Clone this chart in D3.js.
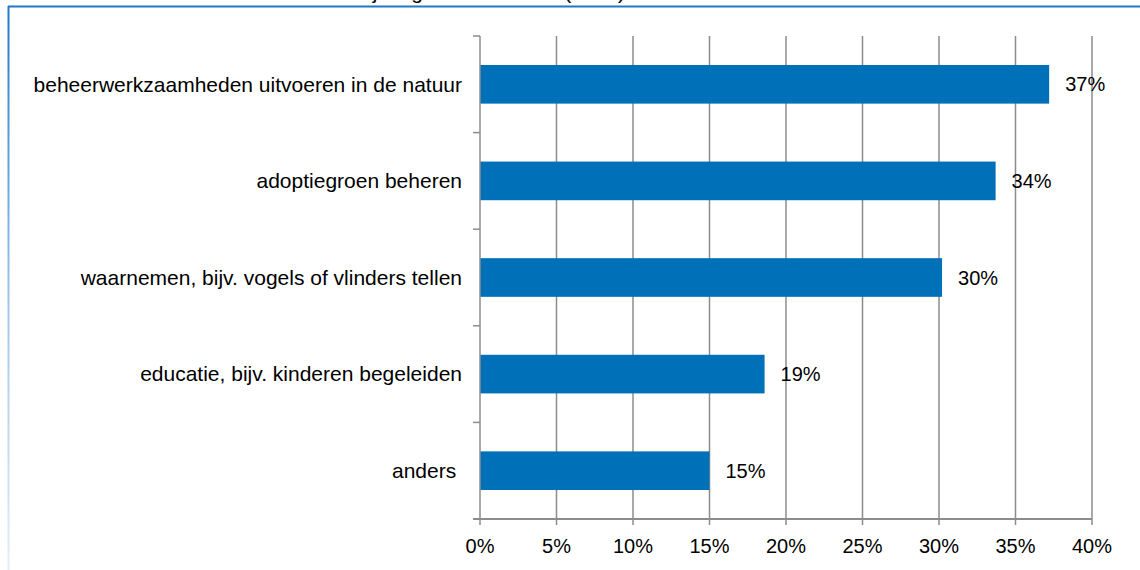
<!DOCTYPE html>
<html>
<head>
<meta charset="utf-8">
<script src="https://cdn.jsdelivr.net/npm/d3@7"></script>
<style>
  body { margin: 0; background: #fff; }
  text { font-family: "Liberation Sans", Arial, sans-serif; fill: #000; }
</style>
</head>
<body>
<script>
// categories top to bottom, values in percent
var categories = [
  "beheerwerkzaamheden uitvoeren in de natuur",
  "adoptiegroen beheren",
  "waarnemen, bijv. vogels of vlinders tellen",
  "educatie, bijv. kinderen begeleiden",
  "anders "
];
var values = [37.2, 33.7, 30.2, 18.6, 15.0];
var valueLabels = ["37%", "34%", "30%", "19%", "15%"];
var xTicks = [0, 5, 10, 15, 20, 25, 30, 35, 40];

var width = 1140, height = 570;
var svg = d3.select("body").append("svg")
  .attr("width", width)
  .attr("height", height);

// frame with fading left edge
var defs = svg.append("defs");
var grad = defs.append("linearGradient").attr("id", "fade")
  .attr("x1", 0).attr("y1", 0).attr("x2", 0).attr("y2", 1);
grad.append("stop").attr("offset", "0%").attr("stop-color", "#1f78c8");
grad.append("stop").attr("offset", "50%").attr("stop-color", "#9cc3e8");
grad.append("stop").attr("offset", "100%").attr("stop-color", "#e4eef8");

// title, mostly cut off above the frame
svg.append("text")
  .attr("x", 625).attr("y", -1)
  .attr("text-anchor", "end")
  .style("font-size", "21px")
  .text("Soort activiteiten als vrijwilliger in de natuur (2013)");

svg.append("rect")
  .attr("x", 8).attr("y", 5.5).attr("width", width).attr("height", 2)
  .attr("fill", "#1f78c8");
svg.append("rect")
  .attr("x", 7.5).attr("y", 6).attr("width", 2).attr("height", height - 6)
  .attr("fill", "url(#fade)");

var x = d3.scaleLinear().domain([0, 40]).range([480, 1092]);
var y = d3.scaleBand().domain(categories).range([36, 519]).paddingInner(0.6).paddingOuter(0.3);

// vertical gridlines
svg.append("g").selectAll("line").data(xTicks.slice(1)).enter().append("line")
  .attr("x1", function(d) { return x(d); })
  .attr("x2", function(d) { return x(d); })
  .attr("y1", 36).attr("y2", 525)
  .attr("stroke", "#8c8c8c").attr("stroke-width", 1.5);

// bars
svg.append("g").selectAll("rect").data(values).enter().append("rect")
  .attr("x", x(0))
  .attr("y", function(d, i) { return y(categories[i]); })
  .attr("width", function(d) { return x(d) - x(0); })
  .attr("height", y.bandwidth())
  .attr("fill", "#0070b8");

// y axis line with category ticks
var band = (519 - 36) / categories.length;
var yTickPos = d3.range(categories.length + 1).map(function(i) { return 36 + i * band; });
svg.append("line")
  .attr("x1", x(0)).attr("x2", x(0)).attr("y1", 36).attr("y2", 525)
  .attr("stroke", "#8c8c8c").attr("stroke-width", 1.5);
svg.append("g").selectAll("line").data(yTickPos).enter().append("line")
  .attr("x1", 473).attr("x2", x(0))
  .attr("y1", function(d) { return d; }).attr("y2", function(d) { return d; })
  .attr("stroke", "#8c8c8c").attr("stroke-width", 1.5);

// x axis line
svg.append("line")
  .attr("x1", 473).attr("x2", x(40)).attr("y1", 519).attr("y2", 519)
  .attr("stroke", "#8c8c8c").attr("stroke-width", 2);

// x tick labels
svg.append("g").selectAll("text").data(xTicks).enter().append("text")
  .attr("x", function(d) { return x(d); })
  .attr("y", 553)
  .attr("text-anchor", "middle")
  .style("font-size", "20px")
  .text(function(d) { return d + "%"; });

// category labels
svg.append("g").selectAll("text").data(categories).enter().append("text")
  .attr("x", 462)
  .attr("y", function(d) { return y(d) + y.bandwidth() / 2; })
  .attr("dy", "0.35em")
  .attr("text-anchor", "end")
  .style("font-size", "21px")
  .style("white-space", "pre")
  .text(function(d) { return d; });

// value labels
svg.append("g").selectAll("text").data(values).enter().append("text")
  .attr("x", function(d) { return x(d) + 16; })
  .attr("y", function(d, i) { return y(categories[i]) + y.bandwidth() / 2; })
  .attr("dy", "0.35em")
  .style("font-size", "20px")
  .text(function(d, i) { return valueLabels[i]; });
</script>
</body>
</html>
